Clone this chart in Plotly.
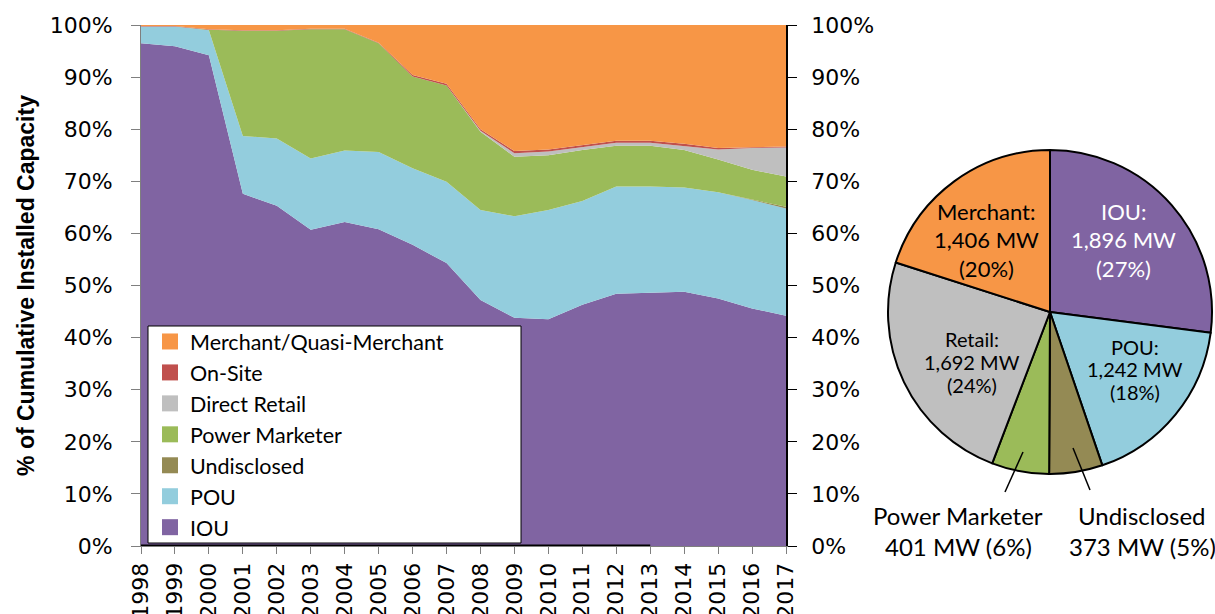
import plotly.graph_objects as go

W, H = 1215, 614

years = list(range(1998, 2018))

# % of cumulative installed capacity (stacked, bottom to top)
iou = [96.5, 95.9, 94.2, 67.6, 65.3, 60.7, 62.2, 60.8, 57.8, 54.3,
       47.2, 43.8, 43.5, 46.3, 48.4, 48.6, 48.8, 47.5, 45.6, 44.2]
pou = [3.2, 3.8, 4.8, 11.1, 12.9, 13.7, 13.7, 14.8, 14.7, 15.6,
       17.3, 19.5, 21.0, 19.9, 20.6, 20.4, 20.0, 20.4, 20.8, 20.6]
undisclosed = [0, 0, 0, 0, 0, 0, 0, 0, 0, 0,
               0, 0, 0, 0, 0, 0, 0, 0, 0.1, 0.3]
power_marketer = [0, 0, 0.1, 20.2, 20.7, 24.8, 23.3, 20.9, 17.6, 18.5,
                  15.0, 11.4, 10.5, 9.8, 7.8, 7.8, 7.2, 6.3, 5.7, 5.8]
direct_retail = [0, 0, 0, 0, 0, 0, 0, 0, 0, 0,
                 0.2, 0.7, 0.7, 0.6, 0.6, 0.6, 0.8, 1.9, 4.2, 5.6]
on_site = [0.1, 0.1, 0.1, 0.1, 0.1, 0.1, 0.1, 0.1, 0.3, 0.3,
           0.3, 0.4, 0.4, 0.4, 0.4, 0.4, 0.4, 0.3, 0.2, 0.2]
merchant = [0.2, 0.2, 0.8, 1.0, 1.0, 0.7, 0.7, 3.4, 9.6, 11.3,
            20.0, 24.2, 23.9, 23.0, 22.2, 22.2, 22.8, 23.6, 23.4, 23.3]

area_names = ["IOU", "POU", "Undisclosed", "Power Marketer", "Direct Retail",
              "On-Site", "Merchant/Quasi-Merchant"]
area_values = [iou, pou, undisclosed, power_marketer, direct_retail, on_site, merchant]
colors = {
    "IOU": "#8064A2",
    "POU": "#93CDDD",
    "Undisclosed": "#948A54",
    "Power Marketer": "#9BBB59",
    "Direct Retail": "#BFBFBF",
    "On-Site": "#C0504D",
    "Merchant/Quasi-Merchant": "#F79646",
}

# Pie: capacity (MW)
pie_labels = ["IOU", "POU", "Undisclosed", "Power Marketer", "Retail", "Merchant"]
pie_mw = [1896, 1242, 373, 401, 1692, 1406]
pie_colors = ["#8064A2", "#93CDDD", "#948A54", "#9BBB59", "#BFBFBF", "#F79646"]
pie_text_lines = [
    ["IOU:", "1,896 MW", "(27%)"],
    ["POU:", "1,242 MW", "(18%)"],
    ["Undisclosed", "373 MW (5%)"],
    ["Power Marketer", "401 MW (6%)"],
    ["Retail:", "1,692 MW", "(24%)"],
    ["Merchant:", "1,406 MW", "(20%)"],
]


def px(x):
    return x / W


def py(y):
    return 1 - y / H


fig = go.Figure()

for name, vals in zip(area_names, area_values):
    fig.add_trace(go.Scatter(
        x=years, y=vals, name=name, stackgroup="one", mode="lines",
        line=dict(width=0, color=colors[name]), fillcolor=colors[name],
        showlegend=False, hoverinfo="x+y+name",
    ))

# legend entries (square swatches)
for name in area_names:
    fig.add_trace(go.Scatter(
        x=[None], y=[None], mode="markers", name=name,
        marker=dict(symbol="square", size=16, color=colors[name]),
        showlegend=True,
    ))

# invisible trace on right axis so it is drawn
fig.add_trace(go.Scatter(x=[years[0]], y=[0], yaxis="y2", mode="markers",
                         marker=dict(opacity=0), showlegend=False, hoverinfo="skip"))

fig.add_trace(go.Pie(
    labels=pie_labels, values=pie_mw, sort=False, direction="clockwise",
    rotation=0, textinfo="none", hoverinfo="label+value+percent",
    marker=dict(colors=pie_colors, line=dict(color="black", width=2)),
    domain=dict(x=[px(888), px(1212)], y=[py(474), py(150)]),
    showlegend=False,
))

tick_font = dict(family="DejaVu Sans", size=22, color="black")

fig.update_layout(
    width=W, height=H, autosize=False,
    margin=dict(l=0, r=0, t=0, b=0, autoexpand=False),
    paper_bgcolor="white", plot_bgcolor="white",
    xaxis=dict(
        domain=[px(141), px(786)], range=[years[0], years[-1]],
        tickmode="array", tickvals=years, ticktext=[str(y) for y in years],
        tickangle=-90, tickfont=tick_font, ticks="outside", ticklen=7,
        tickcolor="#7f7f7f", showline=True, linecolor="#7f7f7f", linewidth=1,
        showgrid=False, zeroline=False, fixedrange=True, automargin=False,
    ),
    yaxis=dict(
        domain=[py(546), py(25)], range=[0, 100], dtick=10, ticksuffix="%",
        tickfont=tick_font, ticks="outside", ticklen=9, tickcolor="#7f7f7f",
        ticklabelstandoff=14,
        showline=True, linecolor="#7f7f7f", linewidth=1, showgrid=False,
        zeroline=False, automargin=False,
        title=dict(text="% of Cumulative Installed Capacity",
                   font=dict(family="Liberation Sans", size=23, color="black",
                             weight="bold"),
                   standoff=8),
    ),
    yaxis2=dict(
        overlaying="y", side="right", range=[0, 100], dtick=10, ticksuffix="%",
        tickfont=tick_font, ticks="outside", ticklen=9, tickcolor="black",
        ticklabelstandoff=10,
        showline=True, linecolor="black", linewidth=1.5, showgrid=False,
        zeroline=False, automargin=False,
    ),
    legend=dict(
        x=px(150), y=py(321), xanchor="left", yanchor="top",
        bgcolor="rgba(0,0,0,0)", borderwidth=0,
        font=dict(family="Lato", size=21.5, color="black"),
        traceorder="reversed", itemsizing="trace",
    ),
)

# legend frame
fig.add_shape(type="rect", xref="paper", yref="paper", layer="above",
              x0=px(148), x1=px(521), y0=py(543), y1=py(326),
              fillcolor="white", line=dict(color="black", width=1))

# thick baseline segment (as in the original)
fig.add_shape(type="line", xref="x", yref="y", x0=years[0], x1=years[15],
              y0=0, y1=0, line=dict(color="black", width=3))

# pie labels
label_pos = {
    "IOU": (1123, [212, 240, 268], "white", 22),
    "Merchant": (986, [212, 240, 268], "black", 22),
    "Retail": (972, [339, 362, 385], "black", 20),
    "POU": (1135, [347, 369, 392], "black", 20),
    "Power Marketer": (958, [515, 546], "black", 24),
    "Undisclosed": (1142, [515, 546], "black", 24),
}
for lab, lines in zip(pie_labels, pie_text_lines):
    cx, ys, col, fs = label_pos[lab]
    for t, yy in zip(lines, ys):
        fig.add_annotation(x=px(cx), y=py(yy), xref="paper", yref="paper",
                           text=t, showarrow=False, xanchor="center",
                           yanchor="middle",
                           font=dict(family="Lato", size=fs, color=col))

# leader lines
fig.add_shape(type="line", xref="paper", yref="paper",
              x0=px(1023), y0=py(452), x1=px(1005), y1=py(492),
              line=dict(color="black", width=1.5))
fig.add_shape(type="line", xref="paper", yref="paper",
              x0=px(1073), y0=py(448), x1=px(1090), y1=py(490),
              line=dict(color="black", width=1.5))

fig.write_html(
    "out.html",
    config={"displayModeBar": False},
    post_script="document.body.style.margin='0';document.body.style.overflow='hidden';",
)
